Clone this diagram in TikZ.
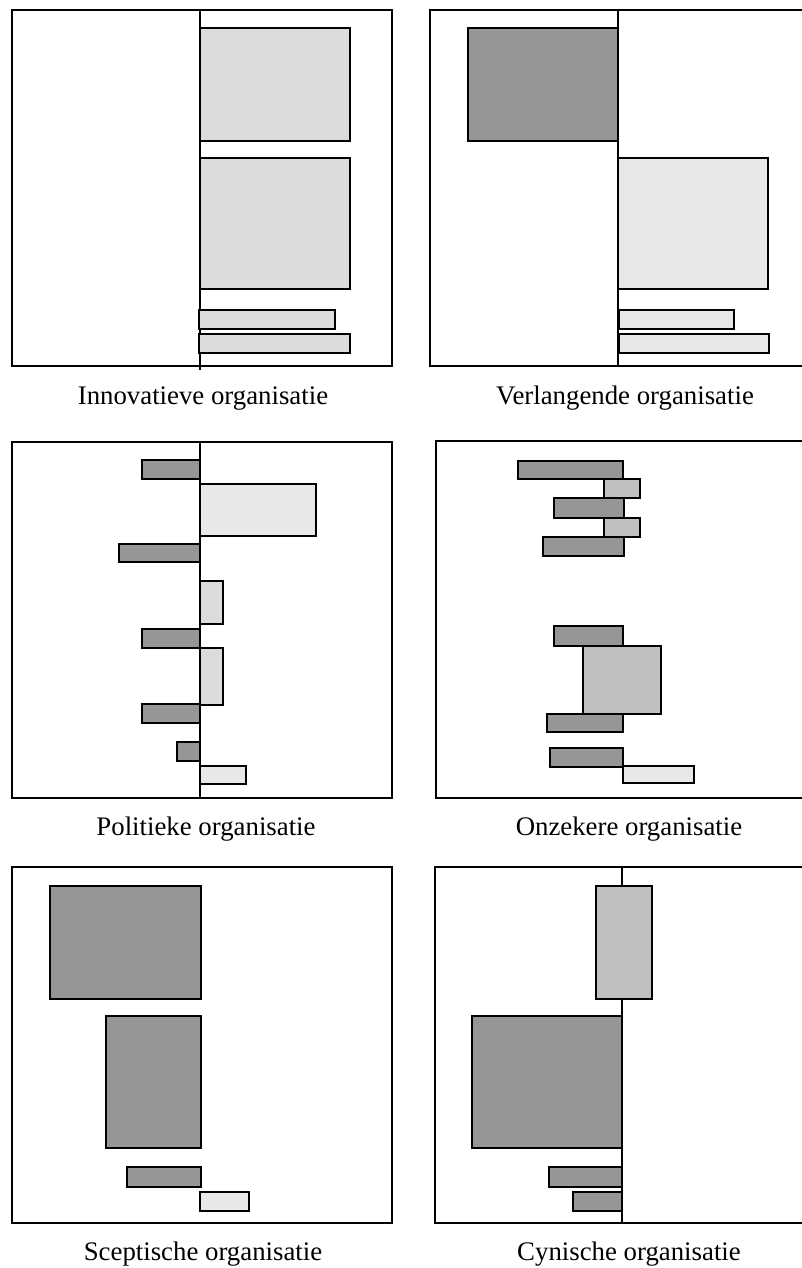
\documentclass[tikz,border=0pt]{standalone}
\usepackage{fontspec}
\setmainfont{Liberation Serif}
\begin{document}
\begin{tikzpicture}[x=1pt,y=-1pt,
  frame/.style={draw=black,line width=2.4pt,fill=white},
  axis/.style={draw=black,line width=2.2pt},
  bar/.style={draw=black,line width=1.9pt},
  dk/.style={bar,fill={rgb,255:red,150;green,150;blue,150}},
  lt/.style={bar,fill={rgb,255:red,232;green,232;blue,232}},
  lg/.style={bar,fill={rgb,255:red,220;green,220;blue,220}},
  md/.style={bar,fill={rgb,255:red,192;green,192;blue,192}},
  lbl/.style={font=\fontsize{26.8}{30}\selectfont,anchor=base,inner sep=0pt}]
\useasboundingbox[fill=white] (0,0) rectangle (802,1268);
% Panel 1: Innovatieve
\draw[frame] (12,10) rectangle (392,366);
\draw[axis] (200,10) -- (200,370);
\draw[lg] (200,28) rectangle (350,141);
\draw[lg] (200,158) rectangle (350,289);
\draw[lg] (199,310) rectangle (335,329);
\draw[lg] (199,334) rectangle (350,353);
\node[lbl] (l1) at (203,404) {Innovatieve organisatie};
% Panel 2: Verlangende
\draw[frame] (430,10) rectangle (806,366);
\draw[axis] (618,10) -- (618,366);
\draw[dk] (468,28) rectangle (618,141);
\draw[lt] (618,158) rectangle (768,289);
\draw[lt] (619,310) rectangle (734,329);
\draw[lt] (619,334) rectangle (769,353);
\node[lbl] (l2) at (625,404) {Verlangende organisatie};
% Panel 3: Politieke
\draw[frame] (12,442) rectangle (392,798);
\draw[axis] (200,442) -- (200,798);
\draw[dk] (142,460) rectangle (200,479);
\draw[lt] (200,484) rectangle (316,536);
\draw[dk] (119,544) rectangle (200,562);
\draw[lg] (200,581) rectangle (223,624);
\draw[dk] (142,629) rectangle (200,648);
\draw[lg] (200,648) rectangle (223,705);
\draw[dk] (142,704) rectangle (200,723);
\draw[dk] (177,742) rectangle (200,761);
\draw[lt] (200,766) rectangle (246,784);
\node[lbl] (l3) at (206,835) {Politieke organisatie};
% Panel 4: Onzekere
\draw[frame] (436,441) rectangle (806,798);
\draw[dk] (518,461) rectangle (623,479);
\draw[md] (604,479) rectangle (640,498);
\draw[dk] (554,498) rectangle (624,518);
\draw[md] (604,518) rectangle (640,537);
\draw[dk] (543,537) rectangle (624,556);
\draw[dk] (554,626) rectangle (623,646);
\draw[md] (583,646) rectangle (661,714);
\draw[dk] (547,714) rectangle (623,732);
\draw[dk] (550,748) rectangle (623,767);
\draw[lt] (623,766) rectangle (694,783);
\node[lbl] (l4) at (629,835) {Onzekere organisatie};
% Panel 5: Sceptische
\draw[frame] (12,867) rectangle (392,1223);
\draw[dk] (50,886) rectangle (201,999);
\draw[dk] (106,1016) rectangle (201,1148);
\draw[dk] (127,1167) rectangle (201,1187);
\draw[lt] (200,1192) rectangle (249,1211);
\node[lbl] (l5) at (203,1260) {Sceptische organisatie};
% Panel 6: Cynische
\draw[frame] (435,867) rectangle (806,1223);
\draw[axis] (622,867) -- (622,1223);
\draw[md] (596,886) rectangle (652,999);
\draw[dk] (472,1016) rectangle (622,1148);
\draw[dk] (549,1167) rectangle (622,1187);
\draw[dk] (573,1192) rectangle (622,1211);
\node[lbl] (l6) at (629,1260) {Cynische organisatie};
\end{tikzpicture}
\end{document}
